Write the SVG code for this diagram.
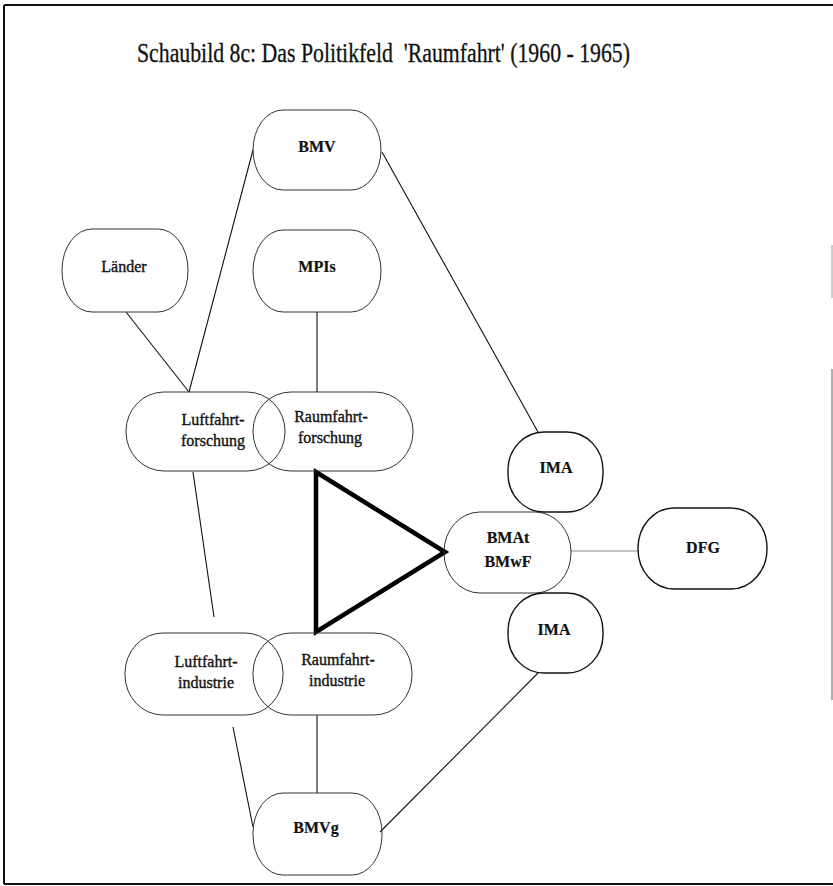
<svg xmlns="http://www.w3.org/2000/svg" width="833" height="886" viewBox="0 0 833 886">
<style>
.box{fill:none;stroke:#333;stroke-width:1}
.dark{fill:none;stroke:#111;stroke-width:1.4}
.lbl{font-family:"Liberation Serif","Times New Roman",serif;font-size:16px;fill:#111;stroke:#111;stroke-width:0.35;text-anchor:middle}
.b{font-weight:bold;stroke-width:0.2}
.ln{stroke:#111;stroke-width:1.1;fill:none}
.frame{stroke:#111;stroke-width:2;fill:none}
</style>
<rect width="833" height="886" fill="#fff"/>
<g id="frame">
<line class="frame" x1="4" y1="5" x2="833" y2="5"/>
<line class="frame" x1="4" y1="5" x2="4" y2="884"/>
<line class="frame" x1="4" y1="884" x2="833" y2="884"/>
<line x1="832" y1="245" x2="832" y2="298" stroke="#aaa" stroke-width="1.2"/>
<line x1="832" y1="369" x2="832" y2="700" stroke="#777" stroke-width="1.2"/>
</g>
<text id="title" x="137" y="62" textLength="493" lengthAdjust="spacingAndGlyphs" style="font-family:'Liberation Serif','Times New Roman',serif;font-size:27px;fill:#111;stroke:#111;stroke-width:0.3" xml:space="preserve">Schaubild 8c: Das Politikfeld  'Raumfahrt' (1960 - 1965)</text>
<g id="connectors">
<line class="ln" x1="126" y1="312" x2="189" y2="392"/>
<line class="ln" x1="253" y1="150" x2="189" y2="392"/>
<line class="ln" x1="317" y1="312" x2="317" y2="392" stroke="#555"/>
<line class="ln" x1="382" y1="152" x2="538" y2="432"/>
<line x1="571" y1="551" x2="638" y2="551" stroke="#888" stroke-width="1.1"/>
<line class="ln" x1="193" y1="472" x2="214" y2="617"/>
<line class="ln" x1="233" y1="727" x2="253" y2="827"/>
<line class="ln" x1="317" y1="715" x2="317" y2="793"/>
<line class="ln" x1="538" y1="673" x2="380" y2="832"/>
<polygon id="triangle" points="316,472 445,552 316,632" fill="none" stroke="#000" stroke-width="4.5" stroke-linejoin="miter"/>
</g>
<g id="bmv"><rect class="box" x="253" y="110" width="128" height="80" rx="30" ry="40"/><text class="lbl b" x="317" y="152">BMV</text></g>
<g id="laender"><rect class="box" x="62" y="229" width="126" height="83" rx="30" ry="41"/><text class="lbl" x="124" y="272">Länder</text></g>
<g id="mpis"><rect class="box" x="253" y="230" width="128" height="82" rx="30" ry="41"/><text class="lbl b" x="317" y="272">MPIs</text></g>
<g id="luftfahrtforschung"><rect class="box" x="126" y="392" width="159" height="79" rx="38" ry="39"/><text class="lbl" x="213" y="425">Luftfahrt-</text><text class="lbl" x="213" y="446">forschung</text></g>
<g id="raumfahrtforschung"><rect class="box" x="253" y="392" width="160" height="79" rx="38" ry="39"/><text class="lbl" x="331" y="422">Raumfahrt-</text><text class="lbl" x="330" y="443">forschung</text></g>
<g id="ima1"><rect class="dark" x="508" y="432" width="95" height="80" rx="36" ry="38"/><text class="lbl b" x="556" y="473">IMA</text></g>
<g id="bmat"><rect class="box" x="444" y="512" width="127" height="81" rx="36" ry="40"/><text class="lbl b" x="508" y="543">BMAt</text><text class="lbl b" x="508" y="567">BMwF</text></g>
<g id="dfg"><rect class="dark" x="638" y="508" width="129" height="81" rx="36" ry="40"/><text class="lbl b" x="703" y="553">DFG</text></g>
<g id="ima2"><rect class="dark" x="508" y="593" width="95" height="80" rx="36" ry="38"/><text class="lbl b" x="554" y="635">IMA</text></g>
<g id="luftfahrtindustrie"><rect class="box" x="125" y="633" width="158" height="82" rx="38" ry="40"/><text class="lbl" x="206" y="667">Luftfahrt-</text><text class="lbl" x="206" y="688">industrie</text></g>
<g id="raumfahrtindustrie"><rect class="box" x="253" y="633" width="159" height="82" rx="38" ry="40"/><text class="lbl" x="338" y="665">Raumfahrt-</text><text class="lbl" x="337" y="686">industrie</text></g>
<g id="bmvg"><rect class="box" x="253" y="793" width="129" height="82" rx="30" ry="40"/><text class="lbl b" x="316" y="833">BMVg</text></g>
</svg>
